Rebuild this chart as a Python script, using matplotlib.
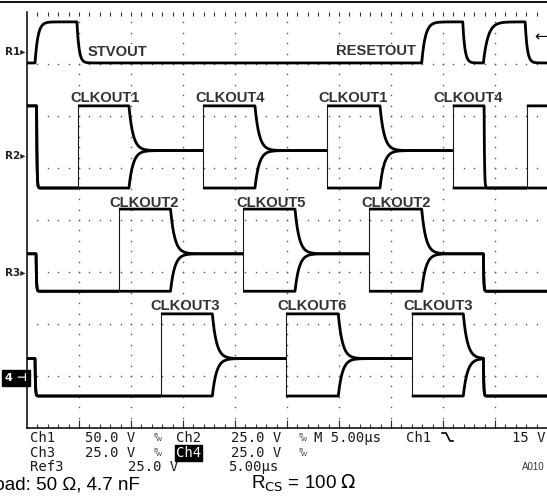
import numpy as np
import matplotlib
matplotlib.use("Agg")
import matplotlib.pyplot as plt
from matplotlib.lines import Line2D

# ---------------- data (times in microseconds, voltages in volts) ----------------
VGH, VGL, VMID = 24.0, -15.5, 2.5
T_END = 50.0
time_per_div = 5.0

ch1_vdiv, clk_vdiv = 50.0, 25.0
ch1_offset = 3.33          # screen division of 0 V
ch2_offset = 1.235
ch3_offset = -0.75
ch4_offset = -2.765

# Ch1: STVOUT / RESETOUT pulses
ch1_rise = [0.77, 37.95, 43.88]
ch1_fall = [4.80, 41.90, 47.90]
ch1_tau_rise = [0.28, 0.35, 0.45]

# clock channels: start level, first drop, pulse on/off, reset
ch2_start, ch2_drop = VGH, 0.92
ch2_on = [4.90, 16.92, 28.85, 40.93]
ch2_off = [9.80, 21.92, 33.94]
ch2_reset, ch2_restart = 43.95, 48.05

ch3_start, ch3_drop = VMID, 0.87
ch3_on = [8.85, 20.77, 32.88]
ch3_off = [13.80, 25.77, 37.95]
ch3_reset = 43.88

ch4_start, ch4_drop = VMID, 0.77
ch4_on = [12.88, 24.90, 36.99]
ch4_off = [17.82, 29.93, 41.95]
ch4_reset = 43.88

labels = ["STVOUT", "RESETOUT", "CLKOUT1", "CLKOUT4", "CLKOUT1", "CLKOUT4",
          "CLKOUT2", "CLKOUT5", "CLKOUT2", "CLKOUT3", "CLKOUT6", "CLKOUT3"]
label_x = [88, 336, 70, 195, 318, 433, 109, 236, 361, 150, 277, 403]
label_y = [56, 55, 102, 102, 102, 102, 207, 207, 207, 310, 310, 310]

# ---------------- figure ----------------
W, H = 547, 503
X0, PXUS = 27.0, 10.4
Y0, PXDIV = 220.0, 52.0
TAU_SHARE = 0.4
TAU_EDGE = 0.04

fig = plt.figure(figsize=(W / 100, H / 100), dpi=100)
fig.patch.set_facecolor("white")
ax = fig.add_axes([0, 0, 1, 1])
ax.set_xlim(-X0 / PXUS, (W - X0) / PXUS)
ax.set_ylim((Y0 - H) / PXDIV, Y0 / PXDIV)
ax.axis("off")


def fp(x, y):
    return x / W, 1 - y / H


# graticule
grid_col = "#555555"
for k in range(1, 10):
    ys = np.arange(-4 + 0.2, 4.0, 0.2)
    ax.plot(np.full_like(ys, k * time_per_div), ys, ls="none", marker="s",
            ms=1.0, mew=0, color=grid_col)
for m in range(-3, 4):
    xs = np.arange(1.0, 50.0, 1.0)
    ax.plot(xs, np.full_like(xs, m), ls="none", marker="s", ms=1.0, mew=0,
            color=grid_col)
xt = np.arange(1.0, 50.0, 1.0)
ax.plot(xt, np.full_like(xt, 4.0 - 0.03), ls="none", marker="|", ms=3,
        mew=0.8, color="#333333")
ax.plot(xt, np.full_like(xt, -4.0 + 0.035), ls="none", marker="|", ms=3.5,
        mew=0.8, color="#333333")
xm = np.arange(5.0, 50.0, 5.0)
ax.plot(xm, np.full_like(xm, -4.0 + 0.07), ls="none", marker="|", ms=6,
        mew=0.8, color="#333333")
ax.plot([0, 0], [-4, 4], color="black", lw=1.1)
ax.plot([0, 50], [-4, -4], color="black", lw=1.1)
fig.add_artist(Line2D([0, 1], [1 - 2 / H] * 2, color="black", lw=1.3))


# traces
def draw_trace(knots, offset, vdiv):
    lv = lambda v: offset + np.asarray(v) / vdiv
    tt, vv = [], []
    v = knots[0][1]
    for i, (t0, tgt, tau) in enumerate(knots):
        t1 = knots[i + 1][0] if i + 1 < len(knots) else T_END
        if tau == 0:
            if tgt != v:
                ax.plot([t0, t0], [lv(v), lv(tgt)], color="#1a1a1a", lw=0.8)
                tt.append(np.nan); vv.append(np.nan)
            ts = np.array([t0, t1]); vs = np.array([tgt, tgt])
        else:
            ts = np.linspace(t0, t1, max(3, int((t1 - t0) / 0.01)))
            vs = tgt + (v - tgt) * np.exp(-(ts - t0) / tau)
        v = vs[-1]
        tt += list(ts); vv += list(lv(vs))
    ax.plot(tt, vv, color="black", lw=2.0, solid_capstyle="butt")


def clk_knots(start, drop, on, off, reset, high):
    k = [(0.0, start, 0.0), (drop, VGL, TAU_EDGE)]
    for i, t_on in enumerate(on):
        k.append((t_on, high, 0.0))
        if i < len(off):
            k.append((off[i], VMID, TAU_SHARE))
    k.append((reset, VGL, TAU_EDGE))
    return k


ch1 = [(0.0, VGL, 0.0)]
for r, f, tr in zip(ch1_rise, ch1_fall, ch1_tau_rise):
    ch1 += [(r, VGH, tr), (f, VGL, 0.2)]
draw_trace(ch1, ch1_offset, ch1_vdiv)

for start, drop, on, off, reset, offs in [
        (ch2_start, ch2_drop, ch2_on, ch2_off, ch2_reset, ch2_offset),
        (ch3_start, ch3_drop, ch3_on, ch3_off, ch3_reset, ch3_offset),
        (ch4_start, ch4_drop, ch4_on, ch4_off, ch4_reset, ch4_offset)]:
    ka = clk_knots(start, drop, on, off, reset, VGH)
    kb = clk_knots(start, drop, on, off, reset, VGL)
    if offs == ch2_offset:
        ka.append((ch2_restart, VGH, 0.0))
    draw_trace(kb, offs, clk_vdiv)
    draw_trace(ka, offs, clk_vdiv)

# waveform labels
for s, x, y in zip(labels, label_x, label_y):
    fig.text(*fp(x, y), s, fontsize=10.6, fontweight="bold", color="#333333",
             family="Liberation Sans", va="baseline", ha="left")

# channel markers
for s, y in [("R1", 51), ("R2", 155), ("R3", 272)]:
    fig.text(*fp(5, y + 4), s + "\u25B8", fontsize=7.5, fontweight="bold",
             color="#222222", family="DejaVu Sans", va="baseline", ha="left")
fig.text(*fp(5, 381), "4 \u22A3", fontsize=8, fontweight="bold", color="white",
         family="DejaVu Sans", va="baseline", ha="left",
         bbox=dict(facecolor="black", edgecolor="black", pad=2.0))
fig.text(*fp(534, 41), "\u2190", fontsize=11, color="black",
         family="DejaVu Sans", va="baseline", ha="left")

# readout
mono = dict(family="DejaVu Sans Mono", fontsize=10, color="#1a1a1a",
            va="baseline", ha="left")
row1, row2, row3 = 442, 457, 471
for s, x, y in [("Ch1", 30, row1), ("50.0 V", 85, row1), ("Ch2", 176, row1),
                ("25.0 V", 231, row1), ("M 5.00\u00b5s", 314, row1),
                ("Ch1", 406, row1), ("15 V", 512, row1),
                ("Ch3", 30, row2), ("25.0 V", 85, row2), ("25.0 V", 231, row2),
                ("Ref3", 30, row3), ("25.0 V", 128, row3),
                ("5.00\u00b5s", 228, row3)]:
    fig.text(*fp(x, y), s, **mono)
fig.text(*fp(176, row2), "Ch4", family="DejaVu Sans Mono", fontsize=10,
         color="white", va="baseline", ha="left",
         bbox=dict(facecolor="black", edgecolor="black", pad=0.8))
for x, y in [(153, row1), (298, row1), (153, row2), (298, row2)]:
    fig.text(*fp(x, y - 5), "B", fontsize=4.5, color="#333333", va="baseline")
    fig.text(*fp(x + 3, y - 1), "W", fontsize=4.5, color="#333333", va="baseline")
fig.add_artist(Line2D([442 / W, 446 / W, 450 / W, 453 / W],
                      [1 - 433 / H, 1 - 433 / H, 1 - 441 / H, 1 - 441 / H],
                      color="black", lw=1.2))
fig.text(*fp(522, 470), "A010", fontsize=7, color="#333333",
         family="Liberation Sans", va="baseline", ha="left")

# caption
fig.text(*fp(-16, 489), "Load: 50 \u03a9, 4.7 nF", fontsize=13.5,
         family="Liberation Sans", color="black", va="baseline", ha="left")
fig.text(*fp(251, 489), r"R$_{\mathrm{CS}}$ = 100 $\Omega$", fontsize=13.5,
         family="Liberation Sans", color="black", va="baseline", ha="left")

fig.savefig("out.png", dpi=100)
